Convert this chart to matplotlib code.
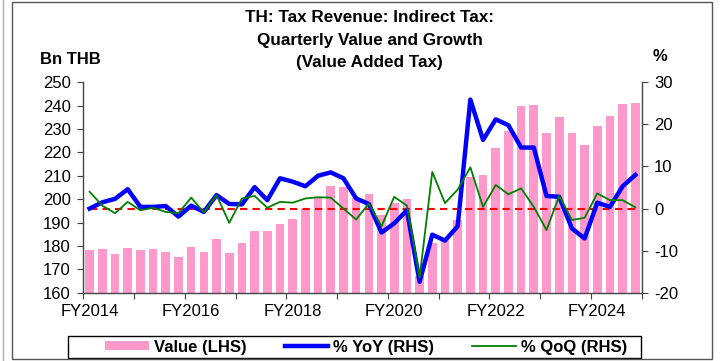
import numpy as np
import matplotlib
matplotlib.use("Agg")
import matplotlib.pyplot as plt
from matplotlib.patches import Rectangle
from matplotlib.lines import Line2D

plt.rcParams["font.family"] = ["Liberation Sans", "DejaVu Sans"]
plt.rcParams["axes.unicode_minus"] = False

# quarterly VAT revenue, FY2014Q1 .. FY2024Q4
years = ["FY2014", "FY2015", "FY2016", "FY2017", "FY2018", "FY2019",
         "FY2020", "FY2021", "FY2022", "FY2023", "FY2024"]
value = [178.3, 178.6, 176.4, 179.1, 178.3, 178.8, 177.4, 175.3,
         179.5, 177.5, 183.1, 177.0, 181.1, 186.4, 186.4, 189.4,
         191.6, 195.8, 200.4, 205.5, 205.2, 200.4, 202.2, 193.2,
         198.2, 199.9, 167.0, 181.2, 182.5, 191.1, 209.6, 210.2,
         221.9, 229.3, 240.0, 240.4, 228.3, 235.0, 228.4, 223.2,
         231.3, 235.7, 240.8, 241.3]
yoy = [0.0, 1.5, 2.3, 4.6, 0.4, 0.4, 0.6, -1.9,
       0.7, -0.8, 3.2, 1.1, 1.0, 5.1, 2.0, 7.2,
       6.4, 5.3, 7.8, 8.6, 7.2, 2.4, 1.1, -5.7,
       -3.5, -0.4, -17.4, -6.2, -7.6, -4.2, 25.9, 16.3,
       21.2, 19.8, 14.5, 14.5, 3.0, 2.8, -4.7, -7.1,
       1.4, 0.4, 5.3, 8.0]
qoq = [4.0, 0.7, -1.1, 1.6, -0.4, 0.2, -0.8, -1.1,
       2.6, -0.9, 3.2, -3.4, 2.4, 3.0, 0.2, 1.6,
       1.4, 2.4, 2.7, 2.6, 0.0, -2.6, 1.2, -4.2,
       2.8, 0.7, -16.4, 8.7, 1.3, 4.5, 9.8, 0.4,
       5.6, 3.4, 4.8, 0.4, -5.1, 3.0, -2.7, -2.2,
       3.6, 2.0, 2.0, 0.3]

x = np.arange(len(value))

fig = plt.figure(figsize=(7.21, 3.61), dpi=100)
ax = fig.add_axes([0.1155, 0.189, 0.7745, 0.583])
ax2 = ax.twinx()

ax.bar(x, value, width=0.68, color="#FF99CC", zorder=2)
ax2.plot(x, [0] * len(x), color="#FF0000", lw=1.5, ls=(0, (3.5, 2.5)))
ax2.plot(x, yoy, color="#0000FF", lw=3.2)
ax2.plot(x, qoq, color="#008000", lw=1.3)

ax.set_xlim(-0.5, len(x) - 0.5)
ax.set_ylim(160, 250)
ax.set_yticks(np.arange(160, 251, 10))
ax2.set_ylim(-20, 30)
ax2.set_yticks(np.arange(-20, 31, 10))

# year boundaries get tick marks, labels sit on the first quarter of every other year
ax.set_xticks(np.arange(-0.5, len(x), 4))
ax.set_xticklabels([])
ax.set_xticks(np.arange(0, len(x), 8), minor=True)
ax.set_xticklabels(years[::2], minor=True)
ax.tick_params(axis="x", which="minor", length=0, pad=8)
ax.tick_params(axis="x", which="major", length=4, color="#444444")

for a in (ax, ax2):
    a.spines["top"].set_visible(False)
    for s in ("left", "right", "bottom"):
        a.spines[s].set_color("#444444")
        a.spines[s].set_linewidth(1.0)
    a.tick_params(axis="y", length=4, color="#444444", labelsize=12, pad=5)
ax.tick_params(axis="x", which="both", labelsize=12)
ax.spines["right"].set_visible(False)
ax2.spines["left"].set_visible(False)
ax2.spines["bottom"].set_visible(False)

fig.text(0.513, 0.972, "TH: Tax Revenue: Indirect Tax:\nQuarterly Value and Growth\n(Value Added Tax)",
         ha="center", va="top", fontsize=12.3, fontweight="bold", linespacing=1.62)
fig.text(0.055, 0.835, "Bn THB", ha="left", va="center", fontsize=12, fontweight="bold")
fig.text(0.915, 0.843, "%", ha="center", va="center", fontsize=12, fontweight="bold")

handles = [
    Rectangle((0, 0), 1, 1, facecolor="#FF99CC", edgecolor="none"),
    Line2D([], [], color="#0000FF", lw=3.2),
    Line2D([], [], color="#008000", lw=1.3),
]
fig.legend(handles, ["Value (LHS)", "% YoY (RHS)", "% QoQ (RHS)"],
           loc="center", bbox_to_anchor=(0.508, 0.0385), ncol=3, frameon=False,
           prop={"weight": "bold", "size": 12}, handlelength=2.6,
           handleheight=0.45, handletextpad=0.3, columnspacing=2.3,
           borderaxespad=0)
# legend box
fig.patches.append(Rectangle((68 / 721, 3 / 361), 573 / 721, 22 / 361,
                             transform=fig.transFigure, fill=False,
                             edgecolor="black", lw=1.0))

# outer frame around the chart
fig.patches.append(Rectangle((12 / 721, 2 / 361), 700 / 721, 357 / 361,
                             transform=fig.transFigure, fill=False,
                             edgecolor="#555555", lw=1.0))
fig.lines.append(Line2D([3 / 721, 3 / 721], [0, 1], transform=fig.transFigure,
                        color="#AAAAAA", lw=1.0))

fig.savefig("out.png", dpi=100)
